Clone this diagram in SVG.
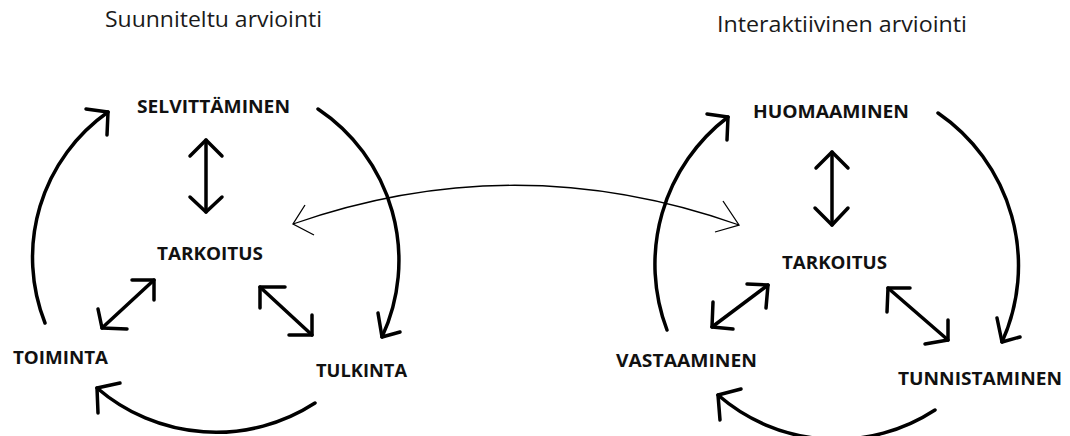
<svg xmlns="http://www.w3.org/2000/svg" width="1070" height="436" viewBox="0 0 1070 436">
<style>
.t{font-family:"Open Sans","Liberation Sans",sans-serif;font-size:22px;fill:#1a1a1a}
.n{font-family:"Open Sans","Liberation Sans",sans-serif;font-weight:bold;font-size:18px;fill:#111}
.c{fill:none;stroke:#000;stroke-width:3.5;stroke-linecap:round;stroke-linejoin:round}
.h{fill:none;stroke:#000;stroke-width:1.3;stroke-linejoin:miter}
</style>
<rect width="1070" height="436" fill="#fff"/>
<text class="t" x="105" y="27" textLength="217" lengthAdjust="spacingAndGlyphs">Suunniteltu arviointi</text>
<text class="t" x="717" y="32" textLength="250" lengthAdjust="spacingAndGlyphs">Interaktiivinen arviointi</text>
<g id="selvittaminen"><text class="n" x="137" y="112.5" textLength="153" lengthAdjust="spacingAndGlyphs">SELVITTÄMINEN</text></g>
<g id="tarkoitus1"><text class="n" x="157" y="259.5" textLength="106" lengthAdjust="spacingAndGlyphs">TARKOITUS</text></g>
<g id="toiminta"><text class="n" x="13" y="363.5" textLength="95" lengthAdjust="spacingAndGlyphs">TOIMINTA</text></g>
<g id="tulkinta"><text class="n" x="316" y="376.5" textLength="91" lengthAdjust="spacingAndGlyphs">TULKINTA</text></g>
<g id="huomaaminen"><text class="n" x="753" y="117.5" textLength="156" lengthAdjust="spacingAndGlyphs">HUOMAAMINEN</text></g>
<g id="tarkoitus2"><text class="n" x="782" y="268.5" textLength="105" lengthAdjust="spacingAndGlyphs">TARKOITUS</text></g>
<g id="vastaaminen"><text class="n" x="616" y="366.5" textLength="141" lengthAdjust="spacingAndGlyphs">VASTAAMINEN</text></g>
<g id="tunnistaminen"><text class="n" x="898" y="384.5" textLength="164" lengthAdjust="spacingAndGlyphs">TUNNISTAMINEN</text></g>
<g id="connectors">
<!-- left cycle -->
<path class="c" d="M45,323 A178,178 0 0 1 108,112"/>
<polyline class="c" points="86,109 108,112 107,135"/>
<path class="c" d="M318,109 A182,182 0 0 1 382,337"/>
<polyline class="c" points="378,313 382,337 400,332"/>
<path class="c" d="M315,403 A182,182 0 0 1 97,388"/>
<polyline class="c" points="120,383 97,388 98,413"/>
<line class="c" x1="206" y1="140" x2="206" y2="212"/>
<polyline class="c" points="190,156 206,140 222,156"/>
<polyline class="c" points="190,197 206,212 222,197"/>
<line class="c" x1="102" y1="328" x2="154" y2="280"/>
<polyline class="c" points="132,280 154,280 154,300"/>
<polyline class="c" points="98,309 102,328 127,329"/>
<line class="c" x1="260" y1="287" x2="312" y2="335"/>
<polyline class="c" points="285,287 260,287 260,308"/>
<polyline class="c" points="312,315 312,335 289,335"/>
<!-- right cycle -->
<path class="c" d="M667,330 A185,185 0 0 1 728,117"/>
<polyline class="c" points="707,114 728,117 727,140"/>
<path class="c" d="M938,113 A185,185 0 0 1 1002,342"/>
<polyline class="c" points="997,318 1002,342 1020,337"/>
<path class="c" d="M935,410 A180,180 0 0 1 718,395"/>
<polyline class="c" points="741,389 718,395 720,420"/>
<line class="c" x1="832" y1="152" x2="832" y2="225"/>
<polyline class="c" points="816,168 832,152 848,168"/>
<polyline class="c" points="815,208 832,225 848,208"/>
<line class="c" x1="712" y1="327" x2="768" y2="285"/>
<polyline class="c" points="747,284 768,285 766,308"/>
<polyline class="c" points="713,302 712,327 733,329"/>
<line class="c" x1="888" y1="288" x2="948" y2="340"/>
<polyline class="c" points="910,288 888,288 887,312"/>
<polyline class="c" points="948,320 948,340 925,344"/>
<!-- thin link -->
<path class="h" d="M293,224 Q516,146 739,225"/>
<polyline class="h" points="305,205 293,224 314,235"/>
<polyline class="h" points="723,201 739,225 715,232"/>
</g>
</svg>
